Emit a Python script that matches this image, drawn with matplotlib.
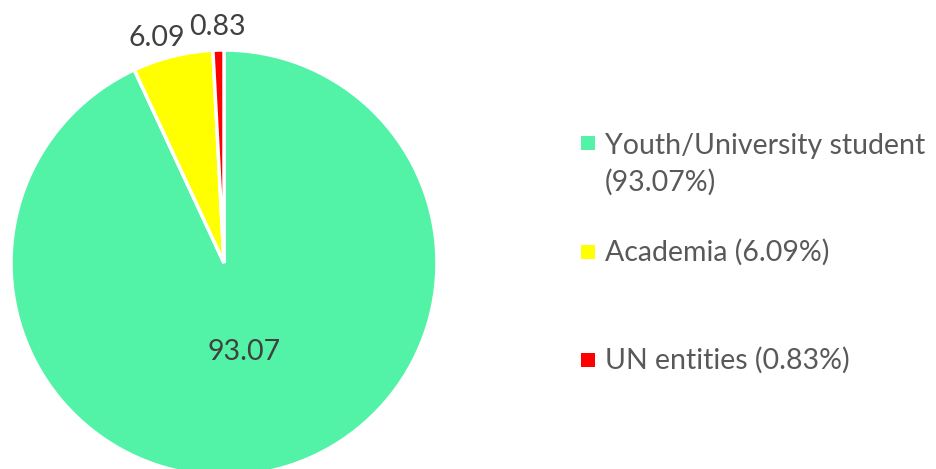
import numpy as np
import matplotlib.pyplot as plt
from matplotlib.patches import Rectangle

# данные
categories = ['Youth/University student', 'Academia', 'UN entities']
values = [93.07, 6.09, 0.83]
legend_labels = ['Youth/University student\n(93.07%)', 'Academia (6.09%)', 'UN entities (0.83%)']
colors = ['#52F3A7', '#FFFF00', '#FF0000']

plt.rcParams['font.family'] = ['Lato', 'DejaVu Sans']

W, H = 937, 469
fig = plt.figure(figsize=(W / 100, H / 100), dpi=100)

# круг: центр (224, 263), радиус 213 пикселей
cx, cy, r = 224, 263, 213
ax = fig.add_axes([(cx - r) / W, (H - cy - r) / H, 2 * r / W, 2 * r / H])
wedges, _ = ax.pie(values, colors=colors, startangle=90, counterclock=False,
                   wedgeprops=dict(edgecolor='white', linewidth=2.5))
ax.set_xlim(-1, 1)
ax.set_ylim(-1, 1)
ax.set_clip_on(False)

# подписи значений
label_dist = [0.43, 1.09, 1.11]
label_shift = [0.0, -0.055, 0.0]
for w, v, d, s in zip(wedges, values, label_dist, label_shift):
    ang = np.deg2rad((w.theta1 + w.theta2) / 2)
    ax.text(d * np.cos(ang) + s, d * np.sin(ang), f'{v:.2f}', ha='center', va='center',
            fontsize=20.5, color='#404040', clip_on=False)

# легенда
legend_y = [164, 252, 360]
square_y = [143, 252, 360]
for lab, col, ty, sy in zip(legend_labels, colors, legend_y, square_y):
    fig.patches.append(Rectangle(((581) / W, (H - sy - 7) / H), 14 / W, 14 / H,
                                 transform=fig.transFigure, facecolor=col, edgecolor='none'))
    fig.text(605 / W, (H - ty) / H, lab, ha='left', va='center', fontsize=20.5,
             color='#595959', linespacing=1.45)

fig.savefig('out.png', dpi=100)
